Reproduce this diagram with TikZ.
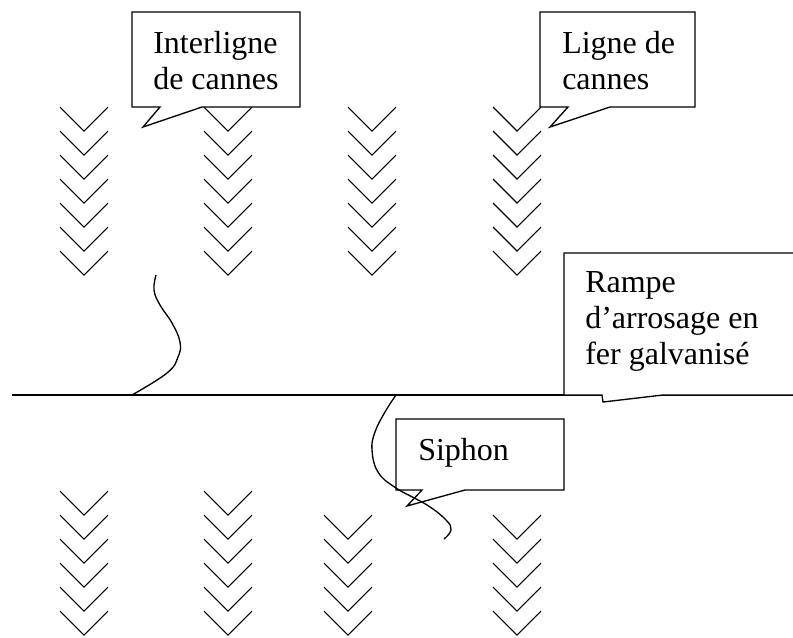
\documentclass[tikz,border=0pt]{standalone}
\usepackage{fontspec}
\setmainfont{Liberation Serif}
\usetikzlibrary{calc}

\begin{document}
\begin{tikzpicture}[x=0.75pt,y=-0.75pt]
      \tikzset{bulle/.style={draw=black, fill=white, line width=1pt, line join=miter}}
      \tikzset{legende/.style={anchor=base west, inner sep=0pt, align=left,
                               font=\fontsize{24}{27}\selectfont}}
      \tikzset{canne/.style={line width=0.8pt}}
      \tikzset{tuyau/.style={line width=1pt}}

      \clip (0,0) rectangle (793,637);

      % ---- Lignes de cannes (haut et bas) ----
      \foreach \cx/\ty/\n in {84/107/6, 228/107/6, 372/107/6, 517/107/6,
                              84/491/5, 228/491/5, 348/515/4, 517/515/4}
        \foreach \k in {0,...,\n}
          \draw[canne] (\cx-24,\ty+24*\k) -- (\cx,\ty+24*\k+24) -- (\cx+24,\ty+24*\k);

      % ---- Rampe et tuyaux ----
      \coordinate (r0) at (12,395);
      \coordinate (r1) at (800,395);
      \draw[tuyau] (r0) -- (r1);
      \draw[tuyau] plot[smooth, tension=0.7] coordinates
            {(156,275) (154,290) (160,305) (172,323) (180,342) (178,357) (167,373) (132,395)};

      % ---- Bulles (ancre sur la derniere ligne) ----
      \draw[bulle] (132,12) -- (300,12) -- (300,107) -- (202,107) -- (143,127)
                   -- (160,107) -- (132,107) -- cycle;
      \node[legende] (interligne) at (153,89) {Interligne\\de cannes};

      \draw[bulle] (540,12) -- (695,12) -- (695,107) -- (610,107) -- (550,127)
                   -- (568,107) -- (540,107) -- cycle;
      \node[legende] (ligne) at (562,89) {Ligne de\\cannes};

      \draw[bulle] (564,253) -- (800,253) -- (800,395) -- (663,395) -- (603,402)
                   -- (602,395) -- (564,395) -- cycle;
      \node[legende] (rampe) at (585,364) {Rampe\\d’arrosage en\\fer galvanisé};

      \draw[bulle] (396,419) -- (564,419) -- (564,490) -- (465,490) -- (407,506)
                   -- (422,490) -- (396,490) -- cycle;
      \node[legende] (siphon) at (418,460) {Siphon};

      % ---- Siphon ----
      \draw[tuyau] plot[smooth, tension=0.7] coordinates
            {(396,395) (385,412) (375,432) (372,450) (378,472) (396,488)
             (427,505) (446,520) (451,530) (444,539)};

\end{tikzpicture}
\end{document}
